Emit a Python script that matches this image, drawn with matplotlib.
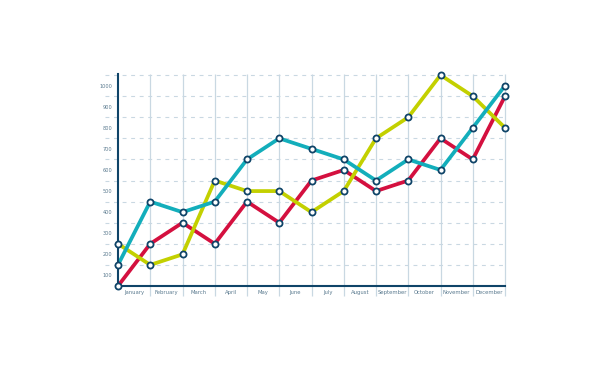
import matplotlib.pyplot as plt
import numpy as np

# 13 points on the month gridlines, labels sit between them
months = ['January', 'February', 'March', 'April', 'May', 'June', 'July',
          'August', 'September', 'October', 'November', 'December']
red = [50, 250, 350, 250, 450, 350, 550, 600, 500, 550, 750, 650, 950]
yellow = [250, 150, 200, 550, 500, 500, 400, 500, 750, 850, 1050, 950, 800]
teal = [150, 450, 400, 450, 650, 750, 700, 650, 550, 650, 600, 800, 1000]
ytick_vals = [100, 200, 300, 400, 500, 600, 700, 800, 900, 1000]
grid_vals = [150, 250, 350, 450, 550, 650, 750, 850, 950, 1050]

navy = '#0f4468'
gridc = '#c9d8e2'
textc = '#5a7a8f'

fig = plt.figure(figsize=(6.12, 3.67), dpi=100)
ax = fig.add_axes([118/612, 1-286/367, 387/612, 212/367])
ax.set_xlim(0, 12)
ax.set_ylim(50, 1055)

x = np.arange(len(red))

# dashed horizontal grid, running a bit past the left spine
for g in grid_vals:
    ax.plot([-0.4, 12], [g, g], color=gridc, lw=0.8, dashes=(3.5, 4.2),
            clip_on=False, zorder=1)
# vertical month lines, poking below the axis as ticks
ax.vlines(np.arange(1, 13), 3, 1055, color=gridc, lw=0.9, clip_on=False, zorder=1)

for vals, col in [(red, '#d4103f'), (yellow, '#c3d000'), (teal, '#13aebb')]:
    ax.plot(x, vals, color=col, lw=2.7, solid_joinstyle='miter', zorder=3,
            clip_on=False)
for vals in [red, yellow, teal]:
    ax.plot(x, vals, 'o', ms=4.4, mfc='white', mec=navy, mew=1.3, zorder=5,
            clip_on=False)

for s in ['top', 'right']:
    ax.spines[s].set_visible(False)
ax.spines['left'].set_color(navy)
ax.spines['left'].set_linewidth(1.5)
ax.spines['bottom'].set_color(navy)
ax.spines['bottom'].set_linewidth(1.5)
ax.spines['left'].set_zorder(4)
ax.spines['bottom'].set_zorder(4)

ax.set_xticks([])
ax.set_yticks(ytick_vals)
ax.set_yticklabels([str(v) for v in ytick_vals], fontsize=3.6, color=textc)
ax.tick_params(axis='y', length=0, pad=4)

for i, m in enumerate(months):
    ax.text(i + 0.5, 50 - 17, m, ha='center', va='top',
            fontsize=3.8, color=textc)

fig.savefig('out.png', dpi=100)
